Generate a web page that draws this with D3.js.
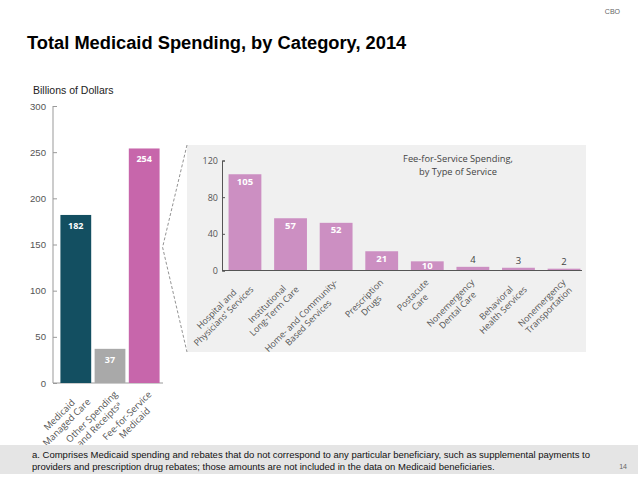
<!DOCTYPE html>
<html>
<head>
<meta charset="utf-8">
<script src="https://cdn.jsdelivr.net/npm/d3@7"></script>
<style>
  body { margin: 0; background: #fff; }
  svg { display: block; }
</style>
</head>
<body>
<svg id="chart" width="638" height="479"></svg>
<script>
// main chart
const mainCats = ["Medicaid Managed Care", "Other Spending and Receipts", "Fee-for-Service Medicaid"];
const mainValues = [182, 37, 254];
const mainColors = ["#134f61", "#a9a9a9", "#c766ab"];
const mainLabels = [["Medicaid", "Managed Care"], ["Other Spending", "and Receipts\u1d43"], ["Fee-for-Service", "Medicaid"]];
const mainTicks = [0, 50, 100, 150, 200, 250, 300];

// inset
const ffsCats = ["Hospital", "LTC", "HCBS", "Drugs", "Postacute", "Dental", "Behavioral", "Transport"];
const ffsValues = [105, 57, 52, 21, 10, 4, 3, 2];
const ffsLabels = [
  ["Hospital and", "Physicians' Services"],
  ["Institutional", "Long-Term Care"],
  ["Home- and Community-", "Based Services"],
  ["Prescription", "Drugs"],
  ["Postacute", "Care"],
  ["Nonemergency", "Dental Care"],
  ["Behavioral", "Health Services"],
  ["Nonemergency", "Transportation"]
];
const ffsTicks = [0, 40, 80, 120];

const svg = d3.select("#chart");
const sans = "'Liberation Sans', Arial, sans-serif";
const soft = "'Open Sans', 'Noto Sans', sans-serif";
const r2 = Math.SQRT1_2;

// rotated two-line label, centred lines; top-right corner of the block at (tx, ty)
function rotLabel(lines, tx, ty, size, lh) {
  const g = svg.append("g");
  const t = g.append("text")
    .attr("text-anchor", "middle")
    .attr("font-family", soft).attr("font-size", size)
    .attr("fill", "#555");
  const spans = lines.map((ln, j) =>
    t.append("tspan").attr("x", 0).attr("y", j * lh).text(ln));
  const u = d3.max(spans, (s) => s.node().getComputedTextLength()) / 2;
  g.attr("transform", `translate(${tx - u * r2},${ty + u * r2}) rotate(-45)`);
}

svg.append("text")
  .attr("x", 620).attr("y", 14)
  .attr("text-anchor", "end")
  .attr("font-family", sans).attr("font-size", 7)
  .attr("fill", "#666")
  .text("CBO");

svg.append("text")
  .attr("x", 27).attr("y", 49)
  .attr("font-family", sans).attr("font-size", 18.3).attr("font-weight", "bold")
  .attr("fill", "#000")
  .text("Total Medicaid Spending, by Category, 2014");

svg.append("text")
  .attr("x", 33).attr("y", 94)
  .attr("font-family", sans).attr("font-size", 10.5)
  .attr("fill", "#222")
  .text("Billions of Dollars");

// ---- main chart ----
const x = d3.scaleBand().domain(mainCats).range([57, 163]).padding(0.1);
const y = d3.scaleLinear().domain([0, 300]).range([383, 106]);

const yAxis = svg.append("g")
  .attr("transform", "translate(53,0)")
  .call(d3.axisLeft(y).tickValues(mainTicks).tickSize(-4).tickPadding(7));
yAxis.select(".domain").attr("stroke", "#999").attr("d", "M0,106V383");
yAxis.selectAll(".tick line").attr("stroke", "#999");
yAxis.selectAll("text")
  .attr("font-family", sans).attr("font-size", 9.6).attr("fill", "#555");

svg.append("line")
  .attr("x1", 53).attr("x2", 163)
  .attr("y1", y(0)).attr("y2", y(0))
  .attr("stroke", "#999");

svg.selectAll(".mbar")
  .data(mainValues)
  .enter()
  .append("rect")
  .attr("class", "mbar")
  .attr("x", (d, i) => x(mainCats[i]))
  .attr("y", (d) => y(d))
  .attr("width", x.bandwidth())
  .attr("height", (d) => y(0) - y(d))
  .attr("fill", (d, i) => mainColors[i]);

svg.selectAll(".mval")
  .data(mainValues)
  .enter()
  .append("text")
  .attr("class", "mval")
  .attr("x", (d, i) => x(mainCats[i]) + x.bandwidth() / 2)
  .attr("y", (d) => y(d) + 14)
  .attr("text-anchor", "middle")
  .attr("font-family", soft).attr("font-size", 9).attr("font-weight", "bold")
  .attr("fill", "#fff")
  .text((d) => d);

mainLabels.forEach((lines, i) => {
  rotLabel(lines, x(mainCats[i]) + x.bandwidth() / 2 + 8, 395, 9.3, 10.5);
});

// ---- inset panel ----
const px0 = 187, px1 = 586, py0 = 145, py1 = 352;
svg.append("rect")
  .attr("x", px0).attr("y", py0)
  .attr("width", px1 - px0).attr("height", py1 - py0)
  .attr("fill", "#f0f0f0");

const feeRight = x(mainCats[2]) + x.bandwidth() + 3;
svg.append("path")
  .attr("d", `M${px0},${py0}L${feeRight},${y(147)}L${px0},${py1}`)
  .attr("fill", "none")
  .attr("stroke", "#777")
  .attr("stroke-width", 0.8)
  .attr("stroke-dasharray", "3 2");

const ix = d3.scaleBand().domain(ffsCats).range([224, 585]).paddingInner(0.28).paddingOuter(0.1);
const iy = d3.scaleLinear().domain([0, 120]).range([270.5, 160.5]);

const iyAxis = svg.append("g")
  .attr("transform", "translate(222,0)")
  .call(d3.axisLeft(iy).tickValues(ffsTicks).tickSize(-3).tickPadding(4));
iyAxis.select(".domain").attr("stroke", "#555");
iyAxis.selectAll(".tick line").attr("stroke", "#555");
iyAxis.selectAll("text")
  .attr("font-family", soft).attr("font-size", 9).attr("fill", "#555");

svg.selectAll(".ibar")
  .data(ffsValues)
  .enter()
  .append("rect")
  .attr("class", "ibar")
  .attr("x", (d, i) => ix(ffsCats[i]))
  .attr("y", (d) => iy(d))
  .attr("width", ix.bandwidth())
  .attr("height", (d) => iy(0) - iy(d))
  .attr("fill", "#cc8fc2");

svg.append("line")
  .attr("x1", 222).attr("x2", 582)
  .attr("y1", iy(0)).attr("y2", iy(0))
  .attr("stroke", "#555");

svg.selectAll(".ival")
  .data(ffsValues)
  .enter()
  .append("text")
  .attr("class", "ival")
  .attr("x", (d, i) => ix(ffsCats[i]) + ix.bandwidth() / 2)
  .attr("y", (d) => (d >= 10 ? Math.min(iy(d) + 10.5, iy(0) - 1.5) : iy(d) - 4))
  .attr("text-anchor", "middle")
  .attr("font-family", soft).attr("font-size", 9.5)
  .attr("font-weight", (d) => (d >= 10 ? "bold" : "normal"))
  .attr("fill", (d) => (d >= 10 ? "#fff" : "#444"))
  .text((d) => d);

const ititle = svg.append("text")
  .attr("text-anchor", "middle")
  .attr("font-family", soft).attr("font-size", 9.3)
  .attr("fill", "#444");
ititle.append("tspan").attr("x", 458).attr("y", 162).text("Fee-for-Service Spending,");
ititle.append("tspan").attr("x", 458).attr("y", 175).text("by Type of Service");

ffsLabels.forEach((lines, i) => {
  rotLabel(lines, ix(ffsCats[i]) + ix.bandwidth() / 2 + 2, 283, 8.8, 10);
});

// ---- footnote ----
svg.append("rect")
  .attr("x", 0).attr("y", 445)
  .attr("width", 638).attr("height", 29)
  .attr("fill", "#e5e5e5");

const note = svg.append("text")
  .attr("font-family", sans).attr("font-size", 9.5)
  .attr("fill", "#111");
note.append("tspan").attr("x", 32).attr("y", 458)
  .text("a. Comprises Medicaid spending and rebates that do not correspond to any particular beneficiary, such as supplemental payments to");
note.append("tspan").attr("x", 32).attr("y", 469.5)
  .text("providers and prescription drug rebates; those amounts are not included in the data on Medicaid beneficiaries.");

svg.append("text")
  .attr("x", 627).attr("y", 469)
  .attr("text-anchor", "end")
  .attr("font-family", sans).attr("font-size", 7)
  .attr("fill", "#666")
  .text("14");
</script>
</body>
</html>
